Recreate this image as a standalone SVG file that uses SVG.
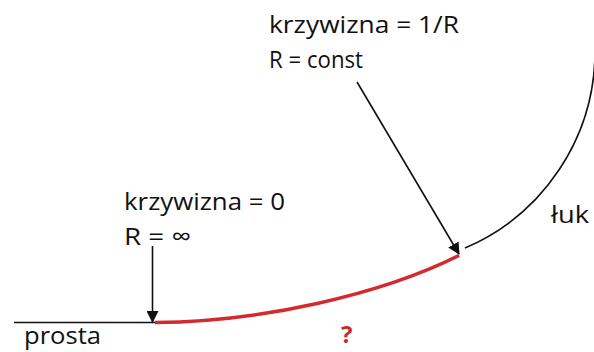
<svg xmlns="http://www.w3.org/2000/svg" width="594" height="352" viewBox="0 0 594 352">
  <style>
    .lbl { font-family: "Open Sans", "Liberation Sans", sans-serif; font-size: 24.5px; fill: #111; }
    .q { font-family: "Open Sans", "Liberation Sans", sans-serif; font-size: 24px; font-weight: bold; fill: #c8282e; }
    .ln { fill: none; stroke: #111; stroke-width: 1.6; }
  </style>
  <defs>
    <marker id="ah" markerUnits="userSpaceOnUse" markerWidth="12" markerHeight="12" viewBox="0 0 12 12" refX="11" refY="6" orient="auto">
      <path d="M0,0 L12,6 L0,12 Z" fill="#111"/>
    </marker>
  </defs>
  <rect width="594" height="352" fill="#ffffff"/>

  <g id="prosta">
    <line class="ln" x1="14" y1="322.5" x2="155" y2="322.5" stroke-width="2"/>
    <text class="lbl" x="24" y="344" textLength="77" lengthAdjust="spacingAndGlyphs">prosta</text>
  </g>

  <g id="przejsciowa">
    <path d="M155,322.5 C262,322 382,294 459,255.5" fill="none" stroke="#d42a2e" stroke-width="3.5"/>
    <text class="q" x="341" y="343">?</text>
  </g>

  <g id="luk">
    <path class="ln" d="M465,248 A214,214 0 0 0 595,51"/>
    <text class="lbl" x="551" y="223" textLength="38" lengthAdjust="spacingAndGlyphs">łuk</text>
  </g>

  <g id="opis-prosta">
    <text class="lbl" x="124" y="210" textLength="161" lengthAdjust="spacingAndGlyphs">krzywizna = 0</text>
    <text class="lbl" x="124" y="245" textLength="67" lengthAdjust="spacingAndGlyphs">R = ∞</text>
  </g>

  <g id="opis-luk">
    <text class="lbl" x="269" y="33" textLength="190" lengthAdjust="spacingAndGlyphs">krzywizna = 1/R</text>
    <text class="lbl" x="269" y="68" textLength="94" lengthAdjust="spacingAndGlyphs">R = const</text>
  </g>

  <g id="connectors">
    <line class="ln" x1="152.5" y1="246" x2="152.5" y2="322" marker-end="url(#ah)"/>
    <line class="ln" x1="357" y1="82" x2="459" y2="254" marker-end="url(#ah)"/>
  </g>
</svg>
